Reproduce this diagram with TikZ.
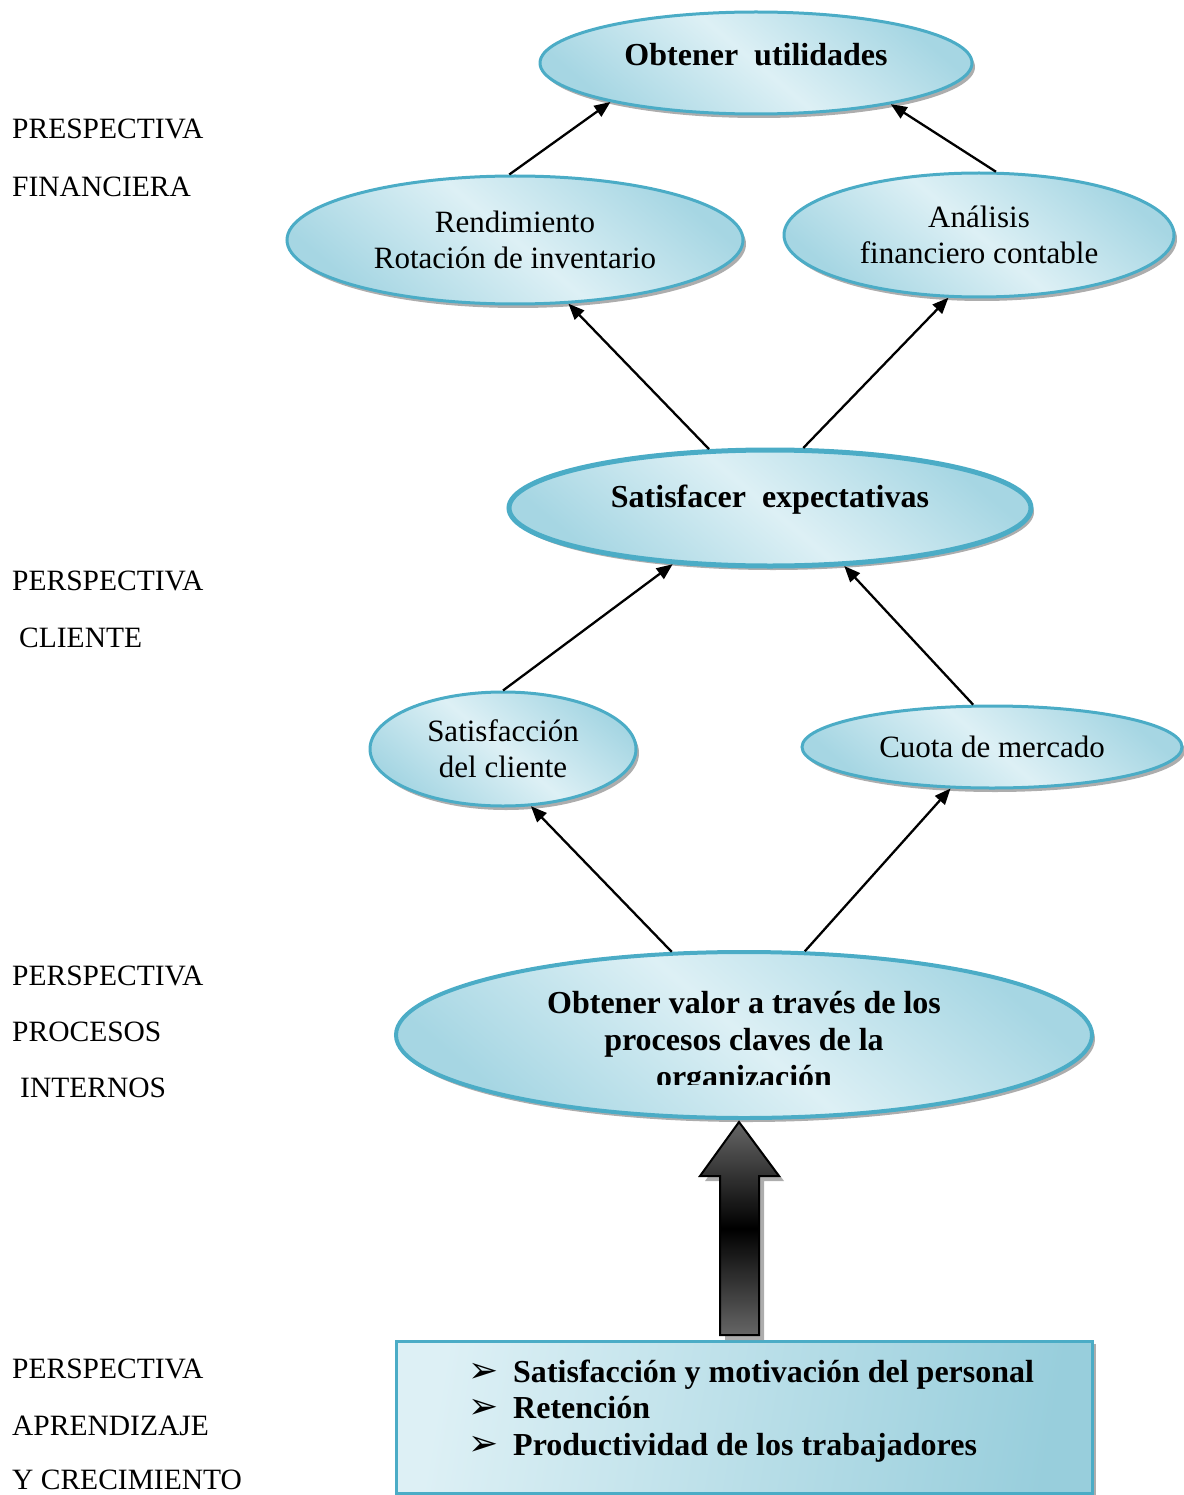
\documentclass[tikz,border=0pt]{standalone}
\usepackage{fontspec}
\setmainfont{Liberation Serif}
\newfontfamily\bulletfont{DejaVu Sans}
\usetikzlibrary{shapes.geometric,shadows,arrows.meta}
\definecolor{bord}{HTML}{4BACC6}
\definecolor{lite}{HTML}{DDF0F5}
\definecolor{deep}{HTML}{A6D6E3}
\definecolor{boxdeep}{HTML}{98CEDC}
\definecolor{agray}{HTML}{666666}
\begin{document}
\begin{tikzpicture}[x=1pt,y=-1pt,
  oval/.style={ellipse, draw=bord, line width=3pt, inner sep=0pt, align=center,
    top color=deep, bottom color=deep, middle color=lite, shading angle=-40,
    drop shadow={shadow xshift=3pt, shadow yshift=-4pt, fill=gray!80, opacity=0.8}},
  regtext/.style={font=\fontsize{31}{36}\selectfont},
  boldtext/.style={font=\bfseries\fontsize{32}{37}\selectfont},
  conn/.style={line width=2.3pt, -{Triangle[length=16pt,width=13pt]}},
  lab/.style={anchor=base west, inner sep=0pt, font=\fontsize{29.5}{30}\selectfont},
  bul/.style={anchor=base west, inner sep=0pt, boldtext},
]
\useasboundingbox (0,0) rectangle (1183,1495);

% left labels
\node[lab] (l1a) at (12,139) {PRESPECTIVA};
\node[lab] (l1b) at (12,197) {FINANCIERA};
\node[lab] (l2a) at (12,590) {PERSPECTIVA};
\node[lab] (l2b) at (19,647) {CLIENTE};
\node[lab] (l3a) at (12,985) {PERSPECTIVA};
\node[lab] (l3b) at (12,1041) {PROCESOS};
\node[lab] (l3c) at (20,1097) {INTERNOS};
\node[lab] (l4a) at (12,1378) {PERSPECTIVA};
\node[lab] (l4b) at (12,1435) {APRENDIZAJE};
\node[lab] (l4c) at (12,1489) {Y CRECIMIENTO};

% ellipses
\node[oval, boldtext, minimum width=432pt, minimum height=102pt] (top) at (756,63) {\raisebox{8pt}[\height][\depth]{Obtener\ \ utilidades}};
\node[oval, regtext, minimum width=456pt, minimum height=128pt] (rend) at (515,240) {Rendimiento\\Rotación de inventario};
\node[oval, regtext, minimum width=390pt, minimum height=124pt] (ana) at (979,235) {Análisis\\financiero contable};
\node[oval, boldtext, line width=5pt, minimum width=522pt, minimum height=116pt] (sat) at (770,508) {\raisebox{8pt}[\height][\depth]{Satisfacer\ \ expectativas}};
\node[oval, regtext, minimum width=266pt, minimum height=114pt] (sc) at (503,749) {Satisfacción\\del cliente};
\node[oval, regtext, minimum width=380pt, minimum height=82pt] (cm) at (992,747) {Cuota de mercado};
\node[oval, line width=4pt, minimum width=696pt, minimum height=166pt] (ov) at (744,1035) {};
\begin{scope}
  \clip (396,940) rectangle (1092,1084);
  \node[boldtext, align=center, inner sep=0pt] (ovtext) at (744,1043) {Obtener valor a través de los\\procesos claves de la\\organización};
\end{scope}

% connectors
\draw[conn] (rend.95) -- (top.195.4);
\draw[conn] (ana.75) -- (top.343);
\draw[conn] (sat.136) -- (rend.310);
\draw[conn] (sat.61) -- (ana.244);
\draw[conn] (sc.north) -- (sat.210.4);
\draw[conn] (cm.114) -- (sat.322);
\draw[conn] (ov.131) -- (sc.296);
\draw[conn] (ov.54.5) -- (cm.225);

% bottom box
\node[rectangle, draw=bord, line width=3pt, minimum width=696pt, minimum height=152pt, inner sep=0pt,
  left color=lite, right color=boxdeep, shading angle=80,
  drop shadow={shadow xshift=4pt, shadow yshift=-3pt, fill=gray!80, opacity=0.8}] (box) at (744,1417) {};
\node[bul] (b1) at (468,1382) {\makebox[45pt][l]{\bulletfont\fontsize{36}{36}\selectfont ➢}Satisfacción y motivación del personal};
\node[bul] (b2) at (468,1418) {\makebox[45pt][l]{\bulletfont\fontsize{36}{36}\selectfont ➢}Retención};
\node[bul] (b3) at (468,1455) {\makebox[45pt][l]{\bulletfont\fontsize{36}{36}\selectfont ➢}Productividad de los trabajadores};

% block arrow
\coordinate (tip) at (739,1122);
\draw[black, line width=2pt, line join=miter, top color=agray, bottom color=agray, middle color=black,
  drop shadow={shadow xshift=5pt, shadow yshift=-5pt, fill=gray!80, opacity=0.8}]
  (tip) -- (779,1176) -- (759,1176) -- (759,1335) -- (720,1335) -- (720,1176) -- (700,1176) -- cycle;
\end{tikzpicture}
\end{document}
